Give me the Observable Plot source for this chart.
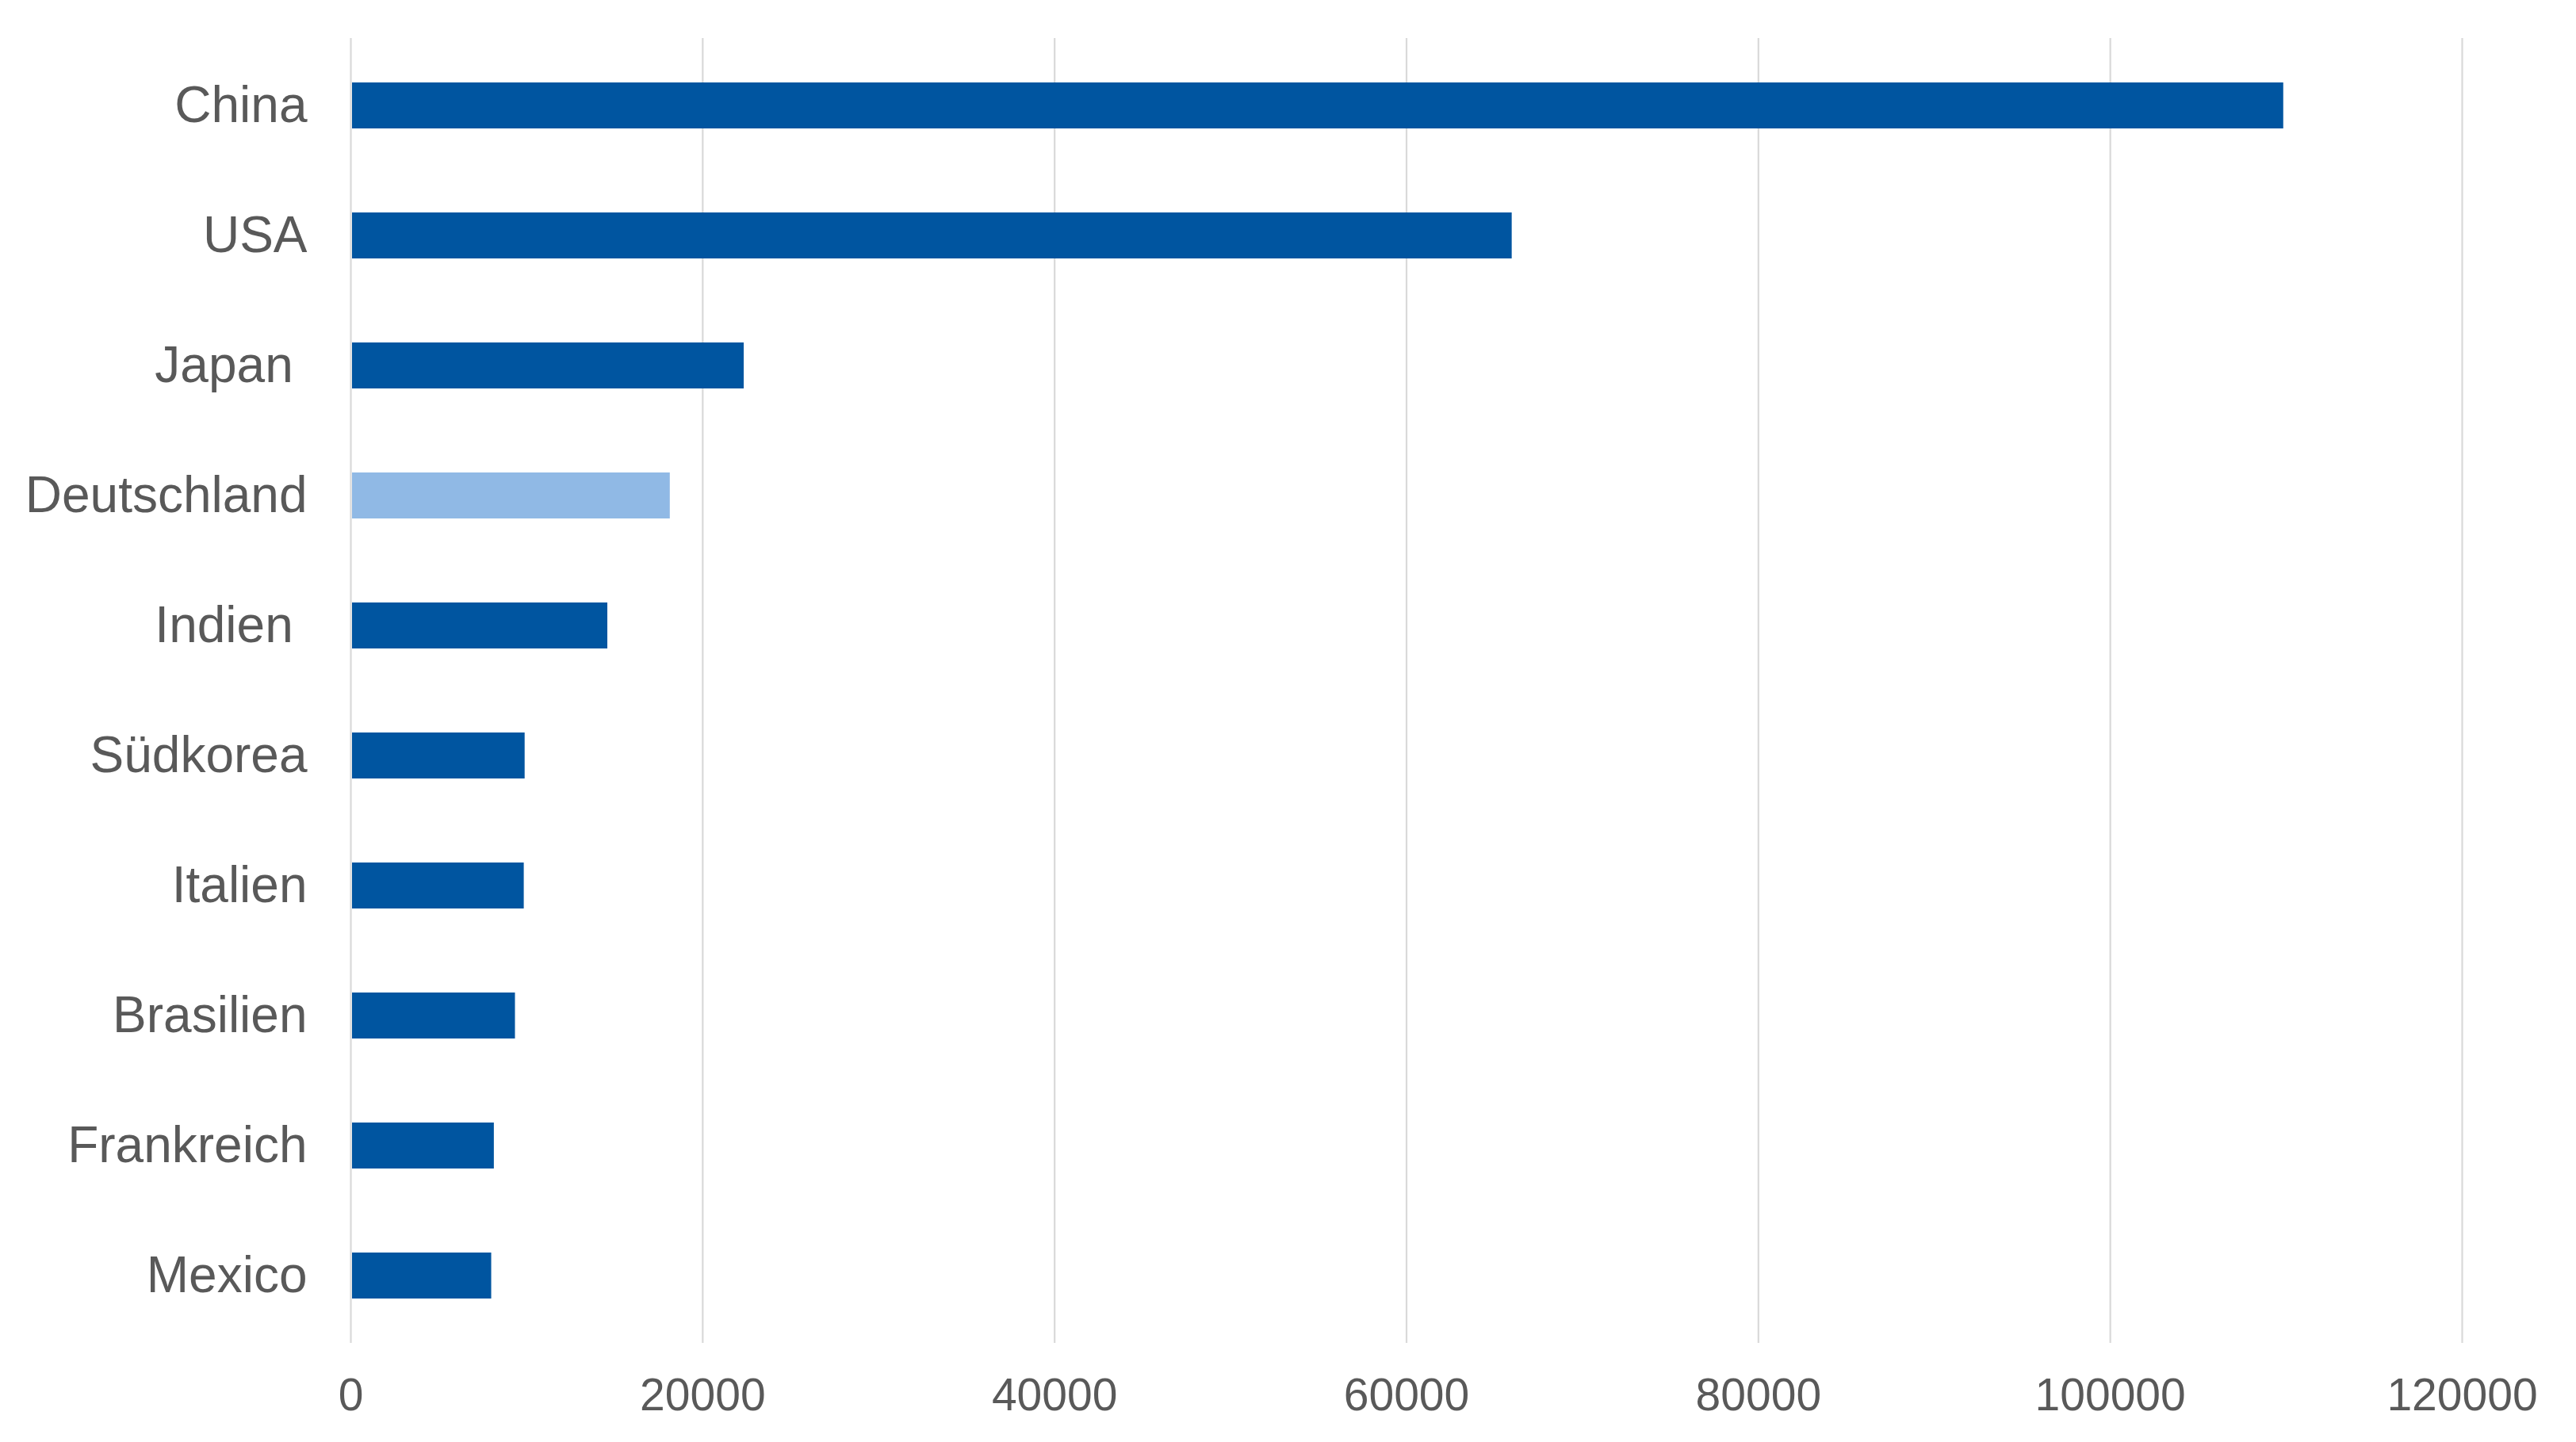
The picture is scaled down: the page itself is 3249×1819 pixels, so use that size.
<!DOCTYPE html>
<html>
<head>
<meta charset="utf-8">
<script src="https://cdn.jsdelivr.net/npm/d3@7"></script>
<script src="https://cdn.jsdelivr.net/npm/@observablehq/plot@0.6"></script>
<style>
  html, body { margin: 0; padding: 0; background: #ffffff; }
  #chart svg text { white-space: pre; }
</style>
</head>
<body>
<div id="chart"></div>
<script>
const countries = ["China", "USA", "Japan ", "Deutschland", "Indien ", "Südkorea", "Italien", "Brasilien", "Frankreich", "Mexico"];
const values = [109850, 66000, 22350, 18150, 14600, 9900, 9850, 9350, 8150, 8000];
const highlighted = ["Deutschland"];
const xTicks = [0, 20000, 40000, 60000, 80000, 100000, 120000];

const data = countries.map((c, i) => ({country: c, value: values[i], hl: highlighted.includes(c)}));

const chart = Plot.plot({
  width: 3249,
  height: 1819,
  marginLeft: 442,
  marginRight: 144,
  marginTop: 48,
  marginBottom: 125,
  style: {fontFamily: "'Liberation Sans', Arial, sans-serif", background: "#ffffff", color: "#595959"},
  x: {domain: [0, 120000]},
  y: {domain: countries, paddingInner: 0.647, paddingOuter: 0.3235},
  color: {type: "identity"},
  marks: [
    Plot.gridX(xTicks, {stroke: "#d9d9d9", strokeOpacity: 1, strokeWidth: 2.2}),
    Plot.barX(data, {y: "country", x1: 0, x2: "value", insetLeft: 2, fill: d => d.hl ? "#90b9e5" : "#0055a0"}),
    Plot.axisX({ticks: xTicks, tickSize: 0, tickPadding: 44, tickFormat: d3.format("d"), fontSize: 57, fill: "#595959", label: null}),
    Plot.axisY({tickSize: 0, tickPadding: 55, fontSize: 64, fill: "#595959", label: null})
  ]
});
document.getElementById("chart").appendChild(chart);
</script>
</body>
</html>
